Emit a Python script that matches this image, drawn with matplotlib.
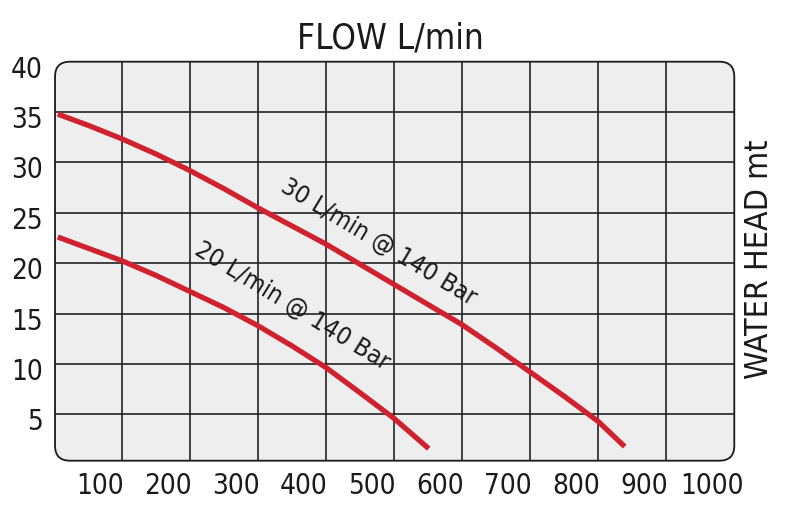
import numpy as np
import matplotlib.pyplot as plt
from matplotlib.patches import FancyBboxPatch
from matplotlib.transforms import ScaledTranslation

# flow (L/min) vs water head (m)
flow_30 = [6, 50, 100, 150, 200, 250, 300, 350, 400, 450, 500, 550, 600, 650, 700, 750, 800, 839]
head_30 = [34.8, 33.7, 32.35, 30.85, 29.2, 27.4, 25.5, 23.7, 21.9, 19.9, 17.9, 15.9, 13.9, 11.6, 9.2, 6.8, 4.3, 1.8]
flow_20 = [6, 50, 100, 150, 200, 250, 300, 350, 400, 450, 500, 551]
head_20 = [22.6, 21.5, 20.25, 18.8, 17.2, 15.6, 13.8, 11.8, 9.65, 7.15, 4.6, 1.6]

x_ticks = [100, 200, 300, 400, 500, 600, 700, 800, 900, 1000]
y_ticks = [5, 10, 15, 20, 25, 30, 35, 40]
label_30 = '30 L/min @ 140 Bar'
label_20 = '20 L/min @ 140 Bar'

plt.rcParams['font.family'] = ['DejaVu Sans']
plt.rcParams['font.stretch'] = 'condensed'

red = '#d0222e'

fig = plt.figure(figsize=(7.94, 5.09), dpi=100)
ax = fig.add_axes([0.0693, 0.0949, 0.8555, 0.7839])
ax.set_xlim(2, 996)
ax.set_ylim(0.4, 39.75)

# rounded plot frame
box = FancyBboxPatch((0, 0), 1, 1, boxstyle='round,pad=0,rounding_size=0.022',
                     mutation_aspect=680 / 399, transform=ax.transAxes,
                     facecolor='#eeeeee', edgecolor='#1a1a1a', linewidth=1.3,
                     zorder=0, clip_on=False)
ax.add_patch(box)
ax.patch.set_visible(False)
for s in ax.spines.values():
    s.set_visible(False)

# grid
for xv in x_ticks[:-1]:
    ax.axvline(xv, color='#222222', linewidth=1.2, zorder=1)
for yv in y_ticks[:-1]:
    ax.axhline(yv, color='#222222', linewidth=1.2, zorder=1)

ax.plot(flow_30, head_30, color=red, linewidth=3.8, zorder=3,
        solid_capstyle='butt', solid_joinstyle='round')
ax.plot(flow_20, head_20, color=red, linewidth=3.8, zorder=3,
        solid_capstyle='butt', solid_joinstyle='round')

ax.text(478, 22.1, label_30, rotation=-31, ha='center', va='center',
        fontsize=18, color='#1a1a1a', zorder=4)
ax.text(350, 15.7, label_20, rotation=-31.5, ha='center', va='center',
        fontsize=18, color='#1a1a1a', zorder=4)

ax.set_xticks(x_ticks)
ax.set_xticklabels([str(v) for v in x_ticks])
ax.set_yticks(y_ticks)
ax.set_yticklabels([str(v) for v in y_ticks])
ax.tick_params(axis='both', length=0, labelsize=20, colors='#1a1a1a')
ax.tick_params(axis='x', pad=8)
ax.tick_params(axis='y', pad=9)

shift_x = ScaledTranslation(-0.22, 0, fig.dpi_scale_trans)
for lab in ax.get_xticklabels():
    lab.set_transform(lab.get_transform() + shift_x)
shift_y = ScaledTranslation(0, -0.05, fig.dpi_scale_trans)
for lab in ax.get_yticklabels():
    lab.set_transform(lab.get_transform() + shift_y)

fig.text(390 / 794, 1 - 39 / 509, 'FLOW L/min', ha='center', va='center',
         fontsize=25, color='#1a1a1a')
fig.text(760 / 794, 1 - 259 / 509, 'WATER HEAD mt', rotation=90, ha='center',
         va='center', fontsize=23, color='#1a1a1a')

fig.savefig('out.png', dpi=100)
